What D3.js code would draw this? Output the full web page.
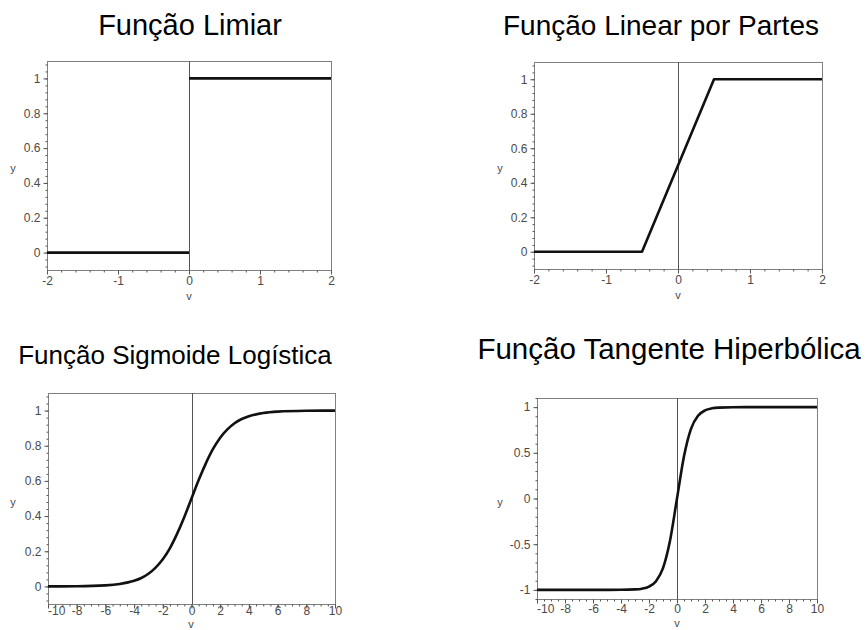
<!DOCTYPE html>
<html>
<head>
<meta charset="utf-8">
<script src="https://cdn.jsdelivr.net/npm/d3@7"></script>
<style>
  html, body { margin: 0; padding: 0; background: #fff; }
  svg { display: block; }
  .title { font-family: "Liberation Sans", Arial, sans-serif; fill: #000; }
  .tick-label { font-family: "Liberation Sans", Arial, sans-serif; font-size: 12px; fill: #4a4a4a; }
  .axis-name { font-family: "Liberation Sans", Arial, sans-serif; font-size: 11px; fill: #4a4a4a; }
</style>
</head>
<body>
<svg id="chart" width="866" height="630"></svg>
<script>
// ---- data -------------------------------------------------------------
// Função Limiar: two flat pieces
const limiarX = [-2, 0, 0, 2];
const limiarY = [0, 0, 1, 1];

// Função Linear por Partes
const linearX = [-2, -0.5, 0.5, 2];
const linearY = [0, 0, 1, 1];

// Função Sigmoide Logística
const sigmoidX = [-10, -8, -6, -5, -4, -3.5, -3, -2.5, -2, -1.5, -1, -0.5, 0, 0.5, 1, 1.5, 2, 2.5, 3, 3.5, 4, 5, 6, 8, 10];
const sigmoidY = [0.0002, 0.001, 0.006, 0.014, 0.032, 0.048, 0.072, 0.107, 0.154, 0.218, 0.30, 0.395, 0.5, 0.605, 0.70, 0.782, 0.846, 0.893, 0.928, 0.952, 0.968, 0.986, 0.994, 0.999, 1.0];

// Função Tangente Hiperbólica
const tanhX = [-10, -6, -4, -3, -2.5, -2, -1.5, -1, -0.5, 0, 0.5, 1, 1.5, 2, 2.5, 3, 4, 6, 10];
const tanhY = [-1, -1, -0.999, -0.995, -0.987, -0.964, -0.905, -0.762, -0.462, 0, 0.462, 0.762, 0.905, 0.964, 0.987, 0.995, 0.999, 1, 1];

// tick values
const ticksX2 = [-2, -1, 0, 1, 2];
const ticksX10 = [-10, -8, -6, -4, -2, 0, 2, 4, 6, 8, 10];
const ticksY01 = [0, 0.2, 0.4, 0.6, 0.8, 1];
const ticksY11 = [-1, -0.5, 0, 0.5, 1];

const titles = ["Função Limiar", "Função Linear por Partes", "Função Sigmoide Logística", "Função Tangente Hiperbólica"];

// ---- layout -----------------------------------------------------------
const panels = [
  { title: titles[0], tx: 190, ty: 35, fs: 29, box: [47, 61, 331, 270], xd: [-2, 2], yd: [-0.1, 1.1],
    xs: limiarX, ys: limiarY, curve: d3.curveLinear, segments: [[0, 2], [2, 4]],
    xt: ticksX2, xminor: 0.2, yt: ticksY01, yminor: 0.04, pad: 2, yName: [13, 168], vName: [189, 300] },
  { title: titles[1], tx: 661, ty: 35, fs: 28, box: [534, 62, 822, 269], xd: [-2, 2], yd: [-0.1, 1.1],
    xs: linearX, ys: linearY, curve: d3.curveLinear,
    xt: ticksX2, xminor: 0.2, yt: ticksY01, yminor: 0.04, pad: 2, yName: [500, 168], vName: [678, 299] },
  { title: titles[2], tx: 175, ty: 364, fs: 26, box: [48, 393, 335, 604], xd: [-10, 10], yd: [-0.1, 1.1],
    xs: sigmoidX, ys: sigmoidY, curve: d3.curveMonotoneX,
    xt: ticksX10, xminor: 0.5, yt: ticksY01, yminor: 0.04, pad: -2, yName: [13, 502], vName: [191, 627.6] },
  { title: titles[3], tx: 669, ty: 359, fs: 29.5, box: [537, 398, 817, 599], xd: [-10, 10], yd: [-1.1, 1.1],
    xs: tanhX, ys: tanhY, curve: d3.curveMonotoneX,
    xt: ticksX10, xminor: 0.5, yt: ticksY11, yminor: 0.1, pad: 1, yName: [500, 502], vName: [677, 626.5] }
];

const svg = d3.select("#chart");
svg.append("rect").attr("width", 866).attr("height", 630).attr("fill", "#fff");

const fmt = v => (Object.is(v, -0) ? "0" : String(v));

function minorValues(domain, step) {
  const out = [];
  const start = Math.ceil(domain[0] / step - 1e-9);
  for (let i = start; i * step <= domain[1] + 1e-9; i++) out.push(+(i * step).toFixed(6));
  return out;
}

panels.forEach(p => {
  const [x0, y0, x1, y1] = p.box;
  const x = d3.scaleLinear().domain(p.xd).range([x0, x1]);
  const y = d3.scaleLinear().domain(p.yd).range([y1, y0]);
  const g = svg.append("g");

  // title
  g.append("text").attr("class", "title").style("font-size", p.fs + "px")
    .attr("x", p.tx).attr("y", p.ty).attr("text-anchor", "middle").text(p.title);

  // frame
  g.append("rect").attr("x", x0 + 0.5).attr("y", y0 + 0.5)
    .attr("width", x1 - x0).attr("height", y1 - y0)
    .attr("fill", "none").attr("stroke", "#808080").attr("stroke-width", 1);

  // vertical line at v = 0
  g.append("line")
    .attr("x1", Math.round(x(0)) + 0.5).attr("x2", Math.round(x(0)) + 0.5)
    .attr("y1", y0).attr("y2", y1)
    .attr("stroke", "#555").attr("stroke-width", 1);

  // bottom axis: minor + major ticks, labels
  const bottom = d3.axisBottom(x).tickValues(minorValues(p.xd, p.xminor))
    .tickSize(2).tickFormat("");
  const gb = g.append("g").attr("transform", `translate(0,${y1 + 0.5})`).call(bottom);
  const bottomMajor = d3.axisBottom(x).tickValues(p.xt).tickSize(4).tickFormat(fmt).tickPadding(p.pad);
  const gbm = g.append("g").attr("transform", `translate(0,${y1 + 0.5})`).call(bottomMajor);
  [gb, gbm].forEach(a => {
    a.select(".domain").remove();
    a.selectAll("line").attr("stroke", "#555");
  });
  gbm.selectAll("text").attr("class", "tick-label").attr("fill", null)
    .attr("font-family", null).attr("font-size", null);
  // keep the outermost label inside the frame on the wide axes
  if (p.xd[0] === -10) {
    gbm.selectAll(".tick").filter(d => d === -10).select("text")
      .attr("text-anchor", "start").attr("x", -0.5);
  }

  // left axis
  const left = d3.axisLeft(y).tickValues(minorValues(p.yd, p.yminor))
    .tickSize(2).tickFormat("");
  const gl = g.append("g").attr("transform", `translate(${x0 + 0.5},0)`).call(left);
  const leftMajor = d3.axisLeft(y).tickValues(p.yt).tickSize(4).tickFormat(fmt).tickPadding(3);
  const glm = g.append("g").attr("transform", `translate(${x0 + 0.5},0)`).call(leftMajor);
  [gl, glm].forEach(a => {
    a.select(".domain").remove();
    a.selectAll("line").attr("stroke", "#555");
  });
  glm.selectAll("text").attr("class", "tick-label").attr("fill", null)
    .attr("font-family", null).attr("font-size", null);

  // axis names
  g.append("text").attr("class", "axis-name").attr("x", p.yName[0]).attr("y", p.yName[1])
    .attr("text-anchor", "middle").attr("dominant-baseline", "central").text("y");
  g.append("text").attr("class", "axis-name").attr("x", p.vName[0]).attr("y", p.vName[1])
    .attr("text-anchor", "middle").text("v");

  // curve
  const pts = p.xs.map((v, i) => [v, p.ys[i]]);
  const line = d3.line().x(d => x(d[0])).y(d => y(d[1])).curve(p.curve);
  const segs = p.segments ? p.segments.map(s => pts.slice(s[0], s[1])) : [pts];
  segs.forEach(s => {
    g.append("path").attr("d", line(s))
      .attr("fill", "none").attr("stroke", "#111").attr("stroke-width", 2.6)
      .attr("stroke-linejoin", "round");
  });
});
</script>
</body>
</html>
